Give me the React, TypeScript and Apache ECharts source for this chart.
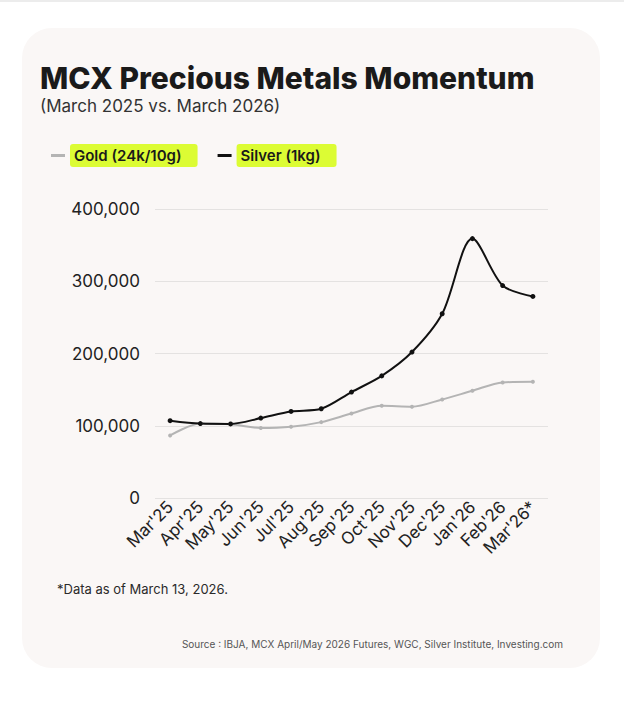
import React, { useEffect, useRef } from "react";
import * as echarts from "echarts";

const categories = ["Mar'25", "Apr'25", "May'25", "Jun'25", "Jul'25", "Aug'25", "Sep'25", "Oct'25", "Nov'25", "Dec'25", "Jan'26", "Feb'26", "Mar'26*"];
const goldValues = [86600, 103000, 102000, 96800, 98600, 105000, 117000, 127600, 126300, 136400, 148400, 160000, 160800];
const silverValues = [107000, 103000, 102500, 110600, 119800, 123500, 146600, 169000, 202000, 255000, 359000, 294000, 279000];
const yTicks = { min: 0, max: 400000, interval: 100000 };

const FONT = "Inter, 'Noto Sans', sans-serif";

export default function App() {
  const ref = useRef<HTMLDivElement>(null);
  useEffect(() => {
    document.body.style.margin = "0";
    const chart = echarts.init(ref.current!, undefined, { renderer: "svg" });
    chart.setOption({
      animation: false,
      backgroundColor: "#ffffff",
      graphic: [
        { type: "rect", shape: { x: 0, y: 0, width: 624, height: 2 }, style: { fill: "#ececec" }, z: -10 },
        { type: "rect", shape: { x: 22, y: 28, width: 578, height: 640, r: 30 }, style: { fill: "#faf7f6" }, z: -10 },
        {
          type: "text", left: 40, top: 63,
          style: { text: "MCX Precious Metals Momentum", font: `800 30px ${FONT}`, fill: "#1a1a1a" },
        },
        {
          type: "text", left: 40, top: 97,
          style: { text: "(March 2025 vs. March 2026)", font: `400 17px ${FONT}`, fill: "#333333" },
        },
        {
          type: "text", left: 57, top: 582,
          style: { text: "*Data as of March 13, 2026.", font: `400 13px ${FONT}`, fill: "#2a2a2a" },
        },
        {
          type: "text", right: 61, top: 639,
          style: { text: "Source : IBJA, MCX April/May 2026 Futures, WGC, Silver Institute, Investing.com", font: `400 10px ${FONT}`, fill: "#555555" },
        },
      ],
      legend: {
        left: 46, top: 139,
        icon: "rect", itemWidth: 14, itemHeight: 3, itemGap: 20, itemTextGap: 8,
        data: ["Gold (24k/10g)", "Silver (1kg)"],
        textStyle: {
          fontFamily: FONT, fontSize: 15, fontWeight: 600, color: "#1a1a1a",
          backgroundColor: "#dcfc34", padding: [4, 16, 4, 4], borderRadius: 3,
        },
      },
      grid: { left: 155, right: 76, top: 209, bottom: 228, containLabel: false },
      xAxis: {
        type: "category",
        data: categories,
        boundaryGap: true,
        axisLine: { show: false },
        axisTick: { show: false },
        axisLabel: { rotate: 45, fontFamily: FONT, fontSize: 17, color: "#222222", margin: 6, interval: 0 },
      },
      yAxis: {
        type: "value",
        min: yTicks.min, max: yTicks.max, interval: yTicks.interval,
        axisLine: { show: false },
        axisTick: { show: false },
        splitLine: { lineStyle: { color: "#e4e2e1", width: 1 } },
        axisLabel: {
          fontFamily: FONT, fontSize: 17, color: "#222222", margin: 15,
          formatter: (v: number) => v.toLocaleString("en-US"),
        },
      },
      series: [
        {
          name: "Gold (24k/10g)", type: "line", data: goldValues, smooth: 0.3,
          symbol: "circle", symbolSize: 4,
          lineStyle: { color: "#b4b4b4", width: 2 }, itemStyle: { color: "#b4b4b4" },
        },
        {
          name: "Silver (1kg)", type: "line", data: silverValues, smooth: 0.3,
          symbol: "circle", symbolSize: 5,
          lineStyle: { color: "#111111", width: 2 }, itemStyle: { color: "#111111" },
        },
      ],
    });
    return () => chart.dispose();
  }, []);
  return <div ref={ref} style={{ position: "absolute", left: 0, top: 0, width: 624, height: 726 }} />;
}
